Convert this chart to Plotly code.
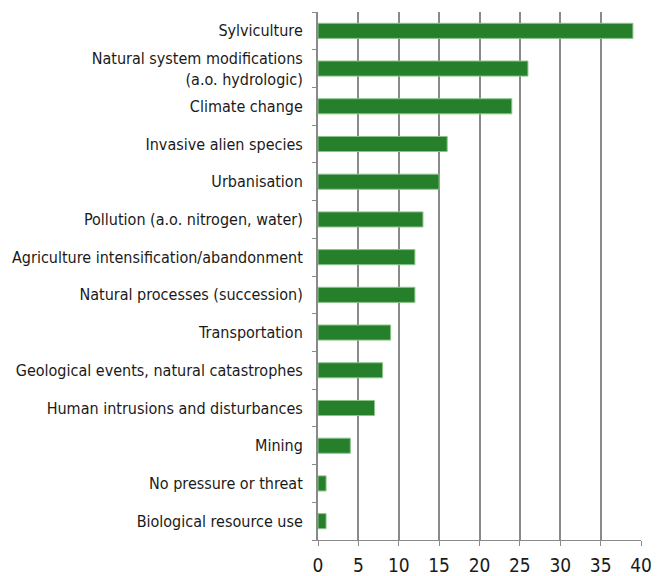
import plotly.graph_objects as go

categories = [
    "Sylviculture",
    "Natural system modifications<br>(a.o. hydrologic)",
    "Climate change",
    "Invasive alien species",
    "Urbanisation",
    "Pollution (a.o. nitrogen, water)",
    "Agriculture intensification/abandonment",
    "Natural processes (succession)",
    "Transportation",
    "Geological events, natural catastrophes",
    "Human intrusions and disturbances",
    "Mining",
    "No pressure or threat",
    "Biological resource use",
]
values = [39, 26, 24, 16, 15, 13, 12, 12, 9, 8, 7, 4, 1, 1]
x_ticks = [0, 5, 10, 15, 20, 25, 30, 35, 40]

GRID = "#8a8a8a"
FONT = "DejaVu Sans Condensed, Liberation Sans Narrow, sans-serif"

fig = go.Figure(
    go.Bar(
        x=values,
        y=categories,
        orientation="h",
        width=0.4,
        marker=dict(color="#267f2a", line=dict(color="#8cc48c", width=1)),
        hoverinfo="x+y",
    )
)

# page body has an 8px margin, so the figure is sized to fit inside the window
fig.update_layout(
    width=651,
    height=568,
    margin=dict(l=310, r=18, t=4, b=36),
    plot_bgcolor="white",
    paper_bgcolor="white",
    showlegend=False,
    font=dict(family=FONT, color="#1a1a1a"),
)
fig.update_xaxes(
    range=[0, 40],
    tickvals=x_ticks,
    automargin=False,
    showgrid=True,
    gridcolor=GRID,
    gridwidth=2,
    zeroline=False,
    showline=True,
    linecolor=GRID,
    linewidth=1,
    ticks="outside",
    tickcolor=GRID,
    ticklen=5,
    ticklabelstandoff=3,
    tickfont=dict(size=19),
)
fig.update_yaxes(
    categoryorder="array",
    categoryarray=categories[::-1],
    autorange=False,
    range=[-0.5, len(categories) - 0.5],
    automargin=False,
    showgrid=False,
    showline=True,
    linecolor=GRID,
    linewidth=2,
    ticks="outside",
    tickson="boundaries",
    tickcolor=GRID,
    ticklen=4,
    ticklabelstandoff=10,
    tickfont=dict(size=16),
)

fig.write_html("out.html")
